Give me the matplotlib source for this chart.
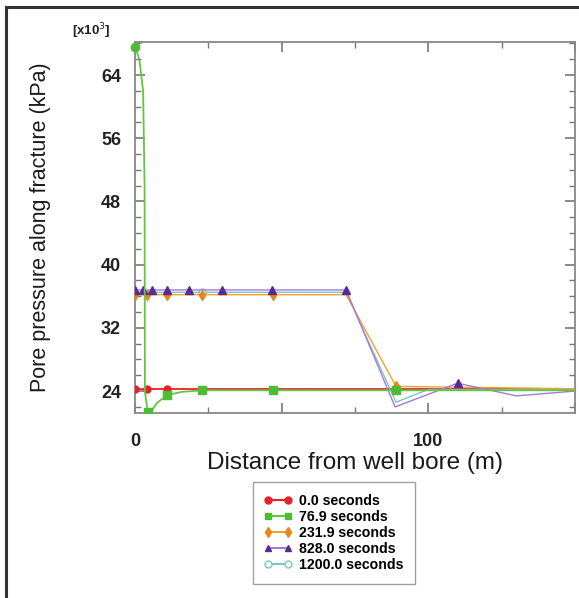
import matplotlib
matplotlib.use("Agg")
import matplotlib.pyplot as plt
from matplotlib.lines import Line2D
from matplotlib.ticker import FixedLocator, MultipleLocator, FixedFormatter

plt.rcParams["font.family"] = ["Liberation Sans", "DejaVu Sans"]

# pressure in units of 10^3 kPa, distance in m
x_0s = [0, 4, 11, 150]
p_0s = [24.3, 24.3, 24.3, 24.3]

x_77s = [0, 1.5, 2.8, 3.3, 3.4, 4.4, 5.5, 7.5, 11, 16, 23, 47, 89, 150]
p_77s = [67.6, 66.0, 62.0, 50.0, 24.0, 21.3, 21.4, 22.5, 23.5, 23.9, 24.1, 24.1, 24.1, 24.1]

x_232s = [0, 4, 11, 23, 47, 72, 89, 150]
p_232s = [36.2, 36.2, 36.2, 36.2, 36.2, 36.2, 24.6, 24.3]

x_828s = [0, 2.7, 5.8, 10.9, 18.4, 29.7, 46.8, 72, 88.7, 110, 130, 150]
p_828s = [36.8, 36.8, 36.8, 36.8, 36.8, 36.8, 36.8, 36.8, 22.0, 25.0, 23.4, 24.0]

x_1200s = [0, 23, 72, 89, 100, 150]
p_1200s = [36.5, 36.5, 36.5, 22.6, 24.2, 24.2]

labels = ["0.0 seconds", "76.9 seconds", "231.9 seconds", "828.0 seconds", "1200.0 seconds"]

fig = plt.figure(figsize=(5.79, 5.98), dpi=100)
ax = fig.add_axes([0.233, 0.309, 0.76, 0.621])

ax.plot(x_0s, p_0s, color="#e8202a", lw=1.3, marker="o", ms=5, markevery=[0, 1, 2], zorder=3)
ax.plot(x_1200s, p_1200s, color="#78c8c0", lw=1.0, marker="o", ms=5, mfc="white",
        markevery=[1], zorder=3)
ax.plot(x_232s, p_232s, color="#f5a030", lw=1.0, marker="d", ms=5, mfc="#e8861a",
        mec="#e8861a", markevery=[0, 1, 2, 3, 4, 6], zorder=3)
ax.plot(x_828s, p_828s, color="#a47ad8", lw=1.0, marker="^", ms=6, mfc="#5a2a90",
        mec="#5a2a90", markevery=[0, 1, 2, 3, 4, 5, 6, 7, 9], zorder=3)
ax.plot(x_77s, p_77s, color="#60c840", lw=1.3, marker="s", ms=6, mfc="#4cbc34",
        mec="#4cbc34", markevery=[5, 8, 10, 11, 12], zorder=4)
# green start point sits on the top frame
ax.plot(x_77s[:1], p_77s[:1], ls="none", marker="o", ms=6, color="#4cbc34",
        clip_on=False, zorder=5)

ax.set_xlim(0, 150)
ax.set_ylim(21.2, 68.2)

ax.xaxis.set_major_locator(FixedLocator([0, 50, 100, 150]))
ax.xaxis.set_major_formatter(FixedFormatter(["0", "", "100", ""]))
ax.xaxis.set_minor_locator(MultipleLocator(25))
ax.yaxis.set_major_locator(FixedLocator([24, 32, 40, 48, 56, 64]))
ax.yaxis.set_minor_locator(MultipleLocator(2))

ax.tick_params(which="both", direction="in", top=True, right=True, color="#777777")
ax.tick_params(which="major", length=7, width=1.2)
ax.tick_params(which="minor", length=4, width=1.0)
ax.tick_params(axis="x", which="major", pad=14, labelsize=13)
ax.tick_params(axis="y", which="major", pad=10, labelsize=13)
for lbl in ax.get_xticklabels() + ax.get_yticklabels():
    lbl.set_fontweight("bold")
    lbl.set_color("#222222")

for sp in ax.spines.values():
    sp.set_color("#888888")
    sp.set_linewidth(1.3)

ax.set_xlabel("Distance from well bore (m)", fontsize=17.5, color="#1a1a1a", labelpad=2)
ax.set_ylabel("Pore pressure along fracture (kPa)", fontsize=15.5, color="#1a1a1a")
ax.yaxis.set_label_coords(-0.19, 0.5)
fig.text(0.158, 0.948, r"[x10$^3$]", fontsize=9.5, fontweight="bold", color="#222222",
         ha="center", va="center")

handles = [
    Line2D([], [], color="#e8202a", marker="o", ms=5),
    Line2D([], [], color="#60c840", marker="s", ms=5, mfc="#4cbc34", mec="#4cbc34"),
    Line2D([], [], color="#f5a030", marker="d", ms=5, mfc="#e8861a", mec="#e8861a"),
    Line2D([], [], color="#a47ad8", marker="^", ms=5, mfc="#5a2a90", mec="#5a2a90"),
    Line2D([], [], color="#78c8c0", marker="o", ms=5, mfc="white"),
]
leg = fig.legend(handles, labels, loc="center", bbox_to_anchor=(334 / 579, 1 - 533 / 598),
                 prop={"weight": "bold", "size": 10.2}, handlelength=2.0,
                 handletextpad=0.5, labelspacing=0.15, fancybox=False,
                 edgecolor="#888888", borderpad=0.8, numpoints=2)
leg.get_frame().set_linewidth(1.0)

# outer frame of the picture
fig.add_artist(Line2D([6 / 579, 6 / 579], [0, 1 - 7 / 598], transform=fig.transFigure,
                      color="#333333", lw=2.2))
fig.add_artist(Line2D([6 / 579, 1], [1 - 7 / 598, 1 - 7 / 598], transform=fig.transFigure,
                      color="#333333", lw=2.2))

fig.savefig("out.png", dpi=100)
